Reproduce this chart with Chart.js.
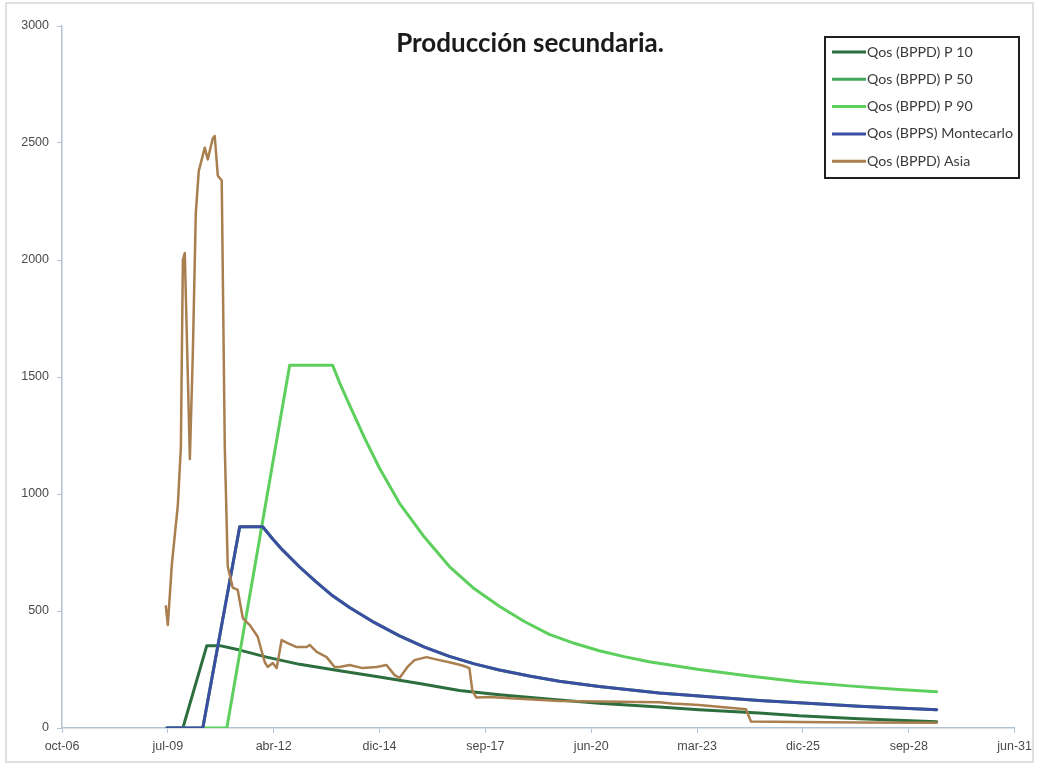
<!DOCTYPE html>
<html>
<head>
<meta charset="utf-8">
<script src="https://cdn.jsdelivr.net/npm/chart.js@4.4.1/dist/chart.umd.min.js"></script>
<style>
  html, body { margin: 0; padding: 0; background: #ffffff; }
  #wrap { position: relative; width: 1038px; height: 764px; }
</style>
</head>
<body>
<div id="wrap"><canvas id="c"></canvas></div>
<script>
// Dates are Excel serial day numbers (39000 = oct-06, 48000 = jun-31)
const chartTitle = 'Producción secundaria.';
const seriesNames = ['Qos (BPPD) P 10', 'Qos (BPPD) P 50', 'Qos (BPPD) P 90', 'Qos (BPPS) Montecarlo', 'Qos (BPPD) Asia'];

const p10Dates  = [39991, 40142, 40368, 40491, 40679, 40934, 41245, 41623, 42000, 42377, 42755, 43132, 43698, 44075, 44642, 45019, 45585, 45962, 46528, 47264];
const p10Values = [0, 0, 352, 352, 333, 303, 272, 245, 218, 190, 160, 142, 120, 106, 90, 78, 64, 52, 40, 27];

const p50Dates  = [39991, 40330, 40679, 40896, 40991, 41085, 41245, 41406, 41557, 41717, 41953, 42189, 42425, 42660, 42896, 43132, 43415, 43698, 44075, 44642, 45019, 45585, 45962, 46528, 47264];
const p50Values = [0, 0, 860, 860, 808, 760, 688, 622, 565, 515, 450, 394, 346, 306, 274, 248, 222, 200, 177, 150, 137, 118, 108, 93, 78];

const p90Dates  = [40330, 40557, 41151, 41557, 41623, 41717, 41858, 42000, 42189, 42425, 42660, 42896, 43132, 43368, 43604, 43840, 44075, 44311, 44547, 45019, 45491, 45962, 46434, 46906, 47264];
const p90Values = [0, 0, 1550, 1550, 1475, 1380, 1240, 1110, 960, 815, 690, 595, 520, 455, 400, 362, 330, 305, 283, 250, 222, 198, 180, 165, 155];

const monteDates  = [39991, 40330, 40679, 40896, 40991, 41085, 41245, 41406, 41557, 41717, 41953, 42189, 42425, 42660, 42896, 43132, 43415, 43698, 44075, 44642, 45019, 45585, 45962, 46528, 47264];
const monteValues = [0, 0, 860, 860, 808, 760, 688, 622, 565, 515, 450, 394, 346, 306, 274, 248, 222, 200, 177, 150, 137, 118, 108, 93, 78];

const asiaDates  = [39981, 40000, 40038, 40094, 40123, 40142, 40160, 40189, 40208, 40236, 40264, 40292, 40349, 40377, 40425, 40443, 40472, 40509, 40538, 40566, 40613, 40660, 40708, 40774, 40849, 40915, 40943, 40991, 41028, 41075, 41132, 41217, 41311, 41340, 41406, 41500, 41575, 41623, 41717, 41840, 41972, 42066, 42142, 42189, 42264, 42330, 42443, 42566, 42689, 42783, 42849, 42877, 42915, 43038, 43321, 43698, 44264, 44642, 44764, 45019, 45462, 45509, 45962, 46528, 47264];
const asiaValues = [520, 440, 700, 950, 1200, 2000, 2030, 1500, 1150, 1600, 2200, 2380, 2480, 2430, 2520, 2530, 2360, 2340, 1200, 690, 600, 590, 470, 440, 390, 282, 261, 278, 256, 376, 363, 346, 346, 355, 325, 303, 261, 261, 269, 256, 261, 269, 226, 214, 261, 290, 303, 290, 278, 267, 256, 160, 130, 132, 125, 115, 112, 110, 105, 98, 80, 28, 26, 24, 22];

const xTickMin = 39000, xTickMax = 48000, xTickStep = 1000;
const yTickMin = 0, yTickMax = 3000, yTickStep = 500;
const monthNames = ['ene','feb','mar','abr','may','jun','jul','ago','sep','oct','nov','dic'];

const colors = ['#2d6e3e', '#3fa85a', '#5ccf5c', '#3b4ea3', '#a97f50'];

function pts(d, v) { return d.map((x, i) => ({ x: x, y: v[i] })); }
function fmtDate(serial) {
  const d = new Date(Date.UTC(1899, 11, 30) + Math.round(serial) * 86400000);
  return monthNames[d.getUTCMonth()] + '-' + String(d.getUTCFullYear() % 100).padStart(2, '0');
}

const overlay = {
  id: 'overlay',
  beforeDraw(chart) {
    const ctx = chart.ctx;
    ctx.save();
    ctx.fillStyle = '#ffffff';
    ctx.fillRect(0, 0, chart.width, chart.height);
    ctx.strokeStyle = '#d6d6d6';
    ctx.lineWidth = 1.5;
    ctx.strokeRect(6, 3, chart.width - 11, chart.height - 5);
    ctx.restore();
  },
  afterDraw(chart) {
    const ctx = chart.ctx;
    ctx.save();
    // title
    ctx.fillStyle = '#1a1a1a';
    ctx.font = 'bold 26px Lato, "Open Sans", sans-serif';
    ctx.textAlign = 'center';
    ctx.textBaseline = 'alphabetic';
    ctx.fillText(chartTitle, 530, 52);
    // legend
    const bx = 825, by = 37, bw = 194, bh = 141;
    ctx.fillStyle = '#ffffff';
    ctx.fillRect(bx, by, bw, bh);
    ctx.strokeStyle = '#1f1f1f';
    ctx.lineWidth = 2;
    ctx.strokeRect(bx, by, bw, bh);
    ctx.font = '12px Lato, "Open Sans", sans-serif';
    const longest = Math.max(...chart.data.datasets.map(d => ctx.measureText(d.label).width));
    const fs = Math.min(15, 12 * 146 / longest);
    ctx.font = fs.toFixed(2) + 'px Lato, "Open Sans", sans-serif';
    ctx.textAlign = 'left';
    ctx.textBaseline = 'middle';
    chart.data.datasets.forEach((ds, i) => {
      const y = 52 + i * 27.3;
      ctx.strokeStyle = ds.borderColor;
      ctx.lineWidth = 3;
      ctx.beginPath();
      ctx.moveTo(832, y);
      ctx.lineTo(866, y);
      ctx.stroke();
      ctx.fillStyle = '#3a3a3a';
      ctx.fillText(ds.label, 867, y);
    });
    ctx.restore();
  }
};

const mk = (i, d, v, order, width) => ({
  label: seriesNames[i],
  data: pts(d, v),
  borderColor: colors[i],
  backgroundColor: colors[i],
  borderWidth: width,
  pointRadius: 0,
  fill: false,
  order: order,
  tension: 0,
  borderJoinStyle: 'round',
  borderCapStyle: 'round'
});

new Chart(document.getElementById('c'), {
  type: 'line',
  data: {
    datasets: [
      mk(0, p10Dates, p10Values, 4, 3),
      mk(1, p50Dates, p50Values, 3, 3),
      mk(2, p90Dates, p90Values, 2, 3),
      mk(3, monteDates, monteValues, 1, 3),
      mk(4, asiaDates, asiaValues, 0, 2.5)
    ]
  },
  options: {
    responsive: true,
    maintainAspectRatio: false,
    animation: false,
    layout: { padding: { left: 0, right: 22, top: 26, bottom: 0 } },
    plugins: { legend: { display: false }, title: { display: false }, tooltip: { enabled: false } },
    scales: {
      x: {
        type: 'linear',
        min: xTickMin, max: xTickMax,
        afterFit(s) { s.height = 36; },
        afterBuildTicks(s) {
          const t = [];
          for (let v = xTickMin; v <= xTickMax; v += xTickStep) t.push({ value: v });
          s.ticks = t;
        },
        ticks: {
          callback: (v) => fmtDate(v),
          autoSkip: false, maxRotation: 0, minRotation: 0,
          color: '#4a4a4a', padding: 6,
          font: { family: '"Liberation Sans", Arial, sans-serif', size: 12.5 }
        },
        grid: { drawOnChartArea: false, drawTicks: true, tickLength: 5, color: '#b4c3d3' },
        border: { color: '#b4c3d3', width: 1.5 }
      },
      y: {
        type: 'linear',
        min: yTickMin, max: yTickMax,
        afterFit(s) { s.width = 62; },
        ticks: {
          stepSize: yTickStep,
          callback: (v) => String(v),
          color: '#4a4a4a', padding: 8,
          font: { family: '"Liberation Sans", Arial, sans-serif', size: 12.5 }
        },
        grid: { drawOnChartArea: false, drawTicks: true, tickLength: 5, color: '#b4c3d3' },
        border: { color: '#b4c3d3', width: 1.5 }
      }
    }
  },
  plugins: [overlay]
});
</script>
</body>
</html>
